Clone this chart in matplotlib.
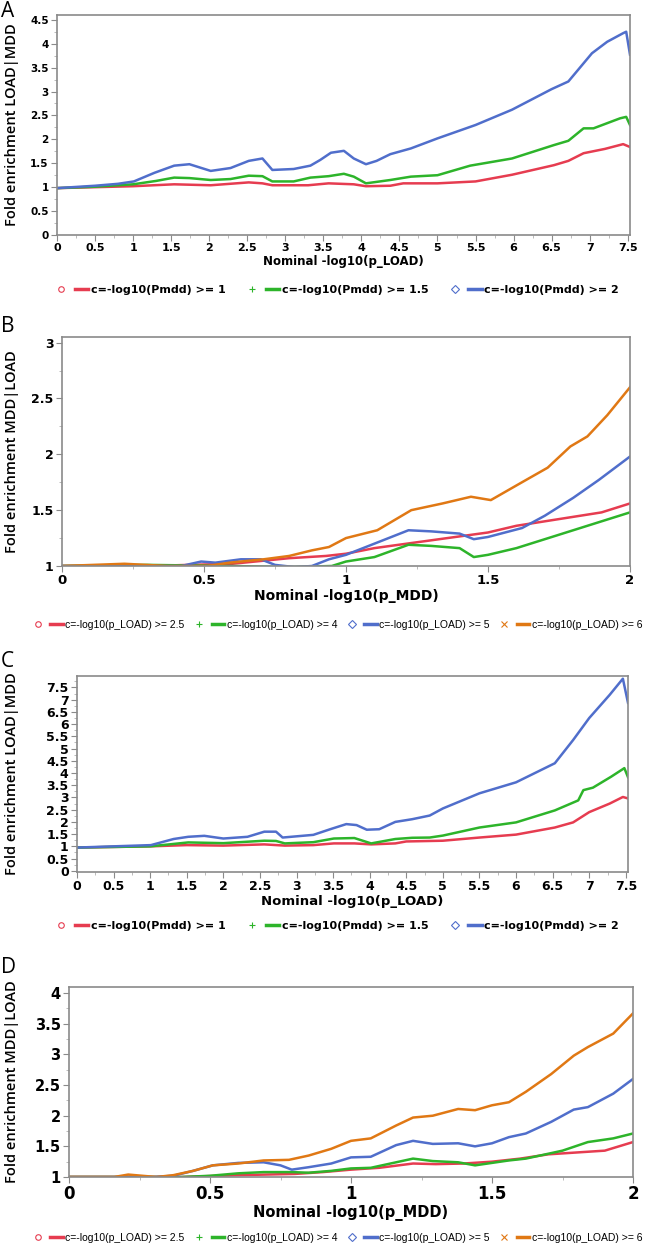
"""Fold-enrichment curves, four stacked panels (A-D)."""

import matplotlib

matplotlib.use("Agg")
import matplotlib.pyplot as plt
from matplotlib.lines import Line2D
from matplotlib.legend_handler import HandlerTuple
from matplotlib.ticker import MultipleLocator

RED = "#E63C50"
GREEN = "#2DB42A"
BLUE = "#506ECB"
ORANGE = "#E07814"

# ---- panel A: LOAD|MDD vs nominal -log10(p_LOAD)
a_red_x = [0, 0.5, 1.0, 1.54, 2.02, 2.52, 2.7, 2.83, 3.3, 3.57, 3.9, 4.06, 4.38, 4.55, 5.0, 5.5, 5.98, 6.53, 6.72, 6.92, 7.2, 7.44, 7.53]
a_red_y = [0.98, 1.0, 1.02, 1.06, 1.04, 1.1, 1.08, 1.04, 1.04, 1.08, 1.06, 1.02, 1.03, 1.08, 1.08, 1.12, 1.26, 1.46, 1.55, 1.71, 1.8, 1.9, 1.84]
a_green_x = [0, 0.5, 1.0, 1.3, 1.54, 1.74, 2.02, 2.28, 2.52, 2.7, 2.83, 3.11, 3.33, 3.57, 3.77, 3.9, 4.06, 4.38, 4.65, 5.0, 5.43, 5.98, 6.53, 6.72, 6.92, 7.05, 7.4, 7.48, 7.53]
a_green_y = [0.98, 1.01, 1.06, 1.13, 1.2, 1.19, 1.15, 1.17, 1.24, 1.23, 1.12, 1.12, 1.2, 1.23, 1.28, 1.22, 1.08, 1.15, 1.22, 1.25, 1.45, 1.6, 1.88, 1.97, 2.23, 2.23, 2.44, 2.47, 2.3]
a_blue_x = [0, 0.5, 0.8, 1.01, 1.28, 1.54, 1.74, 2.02, 2.28, 2.52, 2.7, 2.83, 3.11, 3.33, 3.46, 3.6, 3.77, 3.9, 4.06, 4.2, 4.38, 4.65, 5.0, 5.5, 5.98, 6.5, 6.72, 7.03, 7.23, 7.44, 7.48, 7.53]
a_blue_y = [0.98, 1.03, 1.07, 1.12, 1.3, 1.45, 1.48, 1.34, 1.4, 1.55, 1.6, 1.36, 1.38, 1.45, 1.57, 1.72, 1.76, 1.6, 1.48, 1.55, 1.69, 1.81, 2.02, 2.3, 2.62, 3.05, 3.21, 3.8, 4.04, 4.22, 4.25, 3.77]

# ---- panel B: MDD|LOAD vs nominal -log10(p_MDD)
b_red_x = [0, 0.3, 0.6, 0.8, 0.93, 1.0, 1.1, 1.3, 1.5, 1.6, 1.8, 1.9, 2.0]
b_red_y = [1.0, 1.0, 1.02, 1.07, 1.09, 1.11, 1.16, 1.23, 1.3, 1.36, 1.44, 1.48, 1.56]
b_green_x = [0, 0.3, 0.6, 0.8, 0.95, 1.0, 1.1, 1.22, 1.3, 1.4, 1.45, 1.5, 1.6, 1.7, 1.8, 1.9, 2.0]
b_green_y = [1.0, 1.01, 1.0, 0.99, 1.0, 1.04, 1.08, 1.19, 1.18, 1.16, 1.08, 1.1, 1.16, 1.24, 1.32, 1.4, 1.48]
b_blue_x = [0, 0.42, 0.49, 0.54, 0.63, 0.7, 0.75, 0.82, 0.88, 0.94, 1.0, 1.1, 1.15, 1.22, 1.3, 1.4, 1.45, 1.5, 1.62, 1.7, 1.8, 1.89, 2.0]
b_blue_y = [1.0, 1.0, 1.04, 1.03, 1.06, 1.06, 1.01, 0.99, 1.0, 1.06, 1.1, 1.2, 1.25, 1.32, 1.31, 1.29, 1.24, 1.26, 1.34, 1.45, 1.61, 1.77, 1.98]
b_orange_x = [0, 0.22, 0.37, 0.51, 0.59, 0.71, 0.8, 0.88, 0.94, 1.0, 1.11, 1.23, 1.34, 1.44, 1.51, 1.62, 1.71, 1.79, 1.85, 1.92, 2.0]
b_orange_y = [1.0, 1.02, 1.0, 1.0, 1.03, 1.06, 1.09, 1.14, 1.17, 1.25, 1.32, 1.5, 1.56, 1.62, 1.59, 1.75, 1.88, 2.07, 2.16, 2.35, 2.6]

# ---- panel C: LOAD|MDD vs nominal -log10(p_LOAD)
c_red_x = [0, 1.0, 1.5, 2.0, 2.56, 2.84, 3.23, 3.51, 3.79, 4.02, 4.35, 4.5, 5.0, 5.5, 6.0, 6.53, 6.78, 7.0, 7.28, 7.46, 7.53]
c_red_y = [0.95, 1.0, 1.05, 1.03, 1.08, 1.03, 1.05, 1.12, 1.12, 1.08, 1.12, 1.2, 1.23, 1.36, 1.48, 1.77, 1.98, 2.4, 2.75, 3.02, 2.96]
c_green_x = [0, 1.0, 1.52, 2.0, 2.56, 2.72, 2.84, 3.23, 3.51, 3.79, 4.02, 4.35, 4.58, 4.82, 5.0, 5.5, 6.0, 6.53, 6.85, 6.92, 7.05, 7.3, 7.48, 7.53]
c_green_y = [0.95, 1.0, 1.16, 1.13, 1.23, 1.22, 1.12, 1.17, 1.32, 1.34, 1.12, 1.3, 1.35, 1.36, 1.44, 1.77, 1.98, 2.47, 2.88, 3.3, 3.4, 3.85, 4.2, 3.83]
c_blue_x = [0, 0.5, 1.01, 1.32, 1.52, 1.74, 2.0, 2.33, 2.56, 2.72, 2.81, 3.23, 3.46, 3.68, 3.82, 3.96, 4.13, 4.35, 4.58, 4.82, 5.0, 5.5, 6.0, 6.53, 6.78, 7.0, 7.28, 7.46, 7.53]
c_blue_y = [0.95, 1.0, 1.05, 1.3, 1.39, 1.43, 1.32, 1.39, 1.6, 1.6, 1.36, 1.47, 1.7, 1.91, 1.87, 1.68, 1.7, 2.0, 2.11, 2.26, 2.55, 3.17, 3.62, 4.4, 5.35, 6.25, 7.2, 7.86, 6.87]

# ---- panel D: MDD|LOAD vs nominal -log10(p_MDD)
d_red_x = [0, 0.4, 0.6, 0.8, 0.9, 1.0, 1.1, 1.22, 1.3, 1.4, 1.5, 1.6, 1.7, 1.8, 1.9, 2.0]
d_red_y = [1.0, 1.0, 1.03, 1.05, 1.08, 1.12, 1.15, 1.22, 1.21, 1.22, 1.25, 1.3, 1.37, 1.4, 1.43, 1.57]
d_green_x = [0, 0.4, 0.5, 0.6, 0.69, 0.79, 0.85, 0.93, 1.0, 1.07, 1.16, 1.22, 1.29, 1.38, 1.44, 1.5, 1.56, 1.62, 1.68, 1.75, 1.84, 1.93, 2.0]
d_green_y = [1.0, 1.0, 1.02, 1.06, 1.08, 1.08, 1.07, 1.1, 1.14, 1.15, 1.24, 1.3, 1.26, 1.24, 1.19, 1.23, 1.27, 1.3, 1.36, 1.43, 1.57, 1.63, 1.71]
d_blue_x = [0, 0.3, 0.37, 0.44, 0.51, 0.6, 0.69, 0.75, 0.79, 0.85, 0.93, 1.0, 1.07, 1.16, 1.22, 1.29, 1.38, 1.44, 1.5, 1.56, 1.62, 1.71, 1.79, 1.84, 1.93, 2.0]
d_blue_y = [1.0, 1.0, 1.02, 1.1, 1.19, 1.23, 1.24, 1.19, 1.12, 1.16, 1.22, 1.32, 1.33, 1.52, 1.59, 1.54, 1.55, 1.5, 1.55, 1.65, 1.71, 1.9, 2.1, 2.14, 2.36, 2.6]
d_orange_x = [0, 0.16, 0.21, 0.31, 0.37, 0.44, 0.51, 0.6, 0.69, 0.78, 0.85, 0.93, 1.0, 1.07, 1.16, 1.22, 1.29, 1.38, 1.44, 1.5, 1.56, 1.62, 1.71, 1.79, 1.84, 1.93, 2.0]
d_orange_y = [1.0, 1.0, 1.04, 1.0, 1.03, 1.1, 1.19, 1.22, 1.27, 1.28, 1.35, 1.46, 1.59, 1.63, 1.84, 1.97, 2.0, 2.11, 2.09, 2.17, 2.22, 2.39, 2.68, 2.98, 3.12, 3.34, 3.67]

pmdd_labels = ["c=-log10(Pmdd) >= 1", "c=-log10(Pmdd) >= 1.5", "c=-log10(Pmdd) >= 2"]
pload_labels = ["c=-log10(p_LOAD) >= 2.5", "c=-log10(p_LOAD) >= 4",
                "c=-log10(p_LOAD) >= 5", "c=-log10(p_LOAD) >= 6"]

W, H = 648, 1247
fig = plt.figure(figsize=(W / 100, H / 100), dpi=100)


def rect(left, right, top, bottom):
    return [left / W, 1 - bottom / H, (right - left) / W, (bottom - top) / H]


def panel(box, letter, letter_top, series, labels, markers, xlim, ylim,
          ylabel, xlabel, xtick_fs, ytick_fs, xlabel_fs, legend_y, legend_font, col_space):
    ax = fig.add_axes(rect(*box))
    for (xs, ys, color) in series:
        ax.plot(xs, ys, color=color, lw=1.8, solid_joinstyle="round")
    ax.set_xlim(*xlim)
    ax.set_ylim(*ylim)
    ax.xaxis.set_major_locator(MultipleLocator(0.5))
    ax.yaxis.set_major_locator(MultipleLocator(0.5))
    ax.xaxis.set_minor_locator(MultipleLocator(0.25))
    ax.yaxis.set_minor_locator(MultipleLocator(0.25))
    fmt = plt.FuncFormatter(lambda v, p: f"{v:g}")
    ax.xaxis.set_major_formatter(fmt)
    ax.yaxis.set_major_formatter(fmt)
    for side in ax.spines.values():
        side.set_color("#8a8a8a")
        side.set_linewidth(1.2)
    ax.tick_params(which="major", length=4, color="#8a8a8a", pad=2)
    ax.tick_params(which="minor", length=2, color="#b0b0b0")
    ax.tick_params(axis="x", labelsize=xtick_fs)
    ax.tick_params(axis="y", labelsize=ytick_fs)
    for t in ax.get_xticklabels() + ax.get_yticklabels():
        t.set_fontweight("bold")
    ax.set_xlabel(xlabel, fontsize=xlabel_fs, fontweight="bold", labelpad=1)

    left, right, top, bottom = box
    fig.text(12 / W, 1 - (top + bottom) / 2 / H, ylabel, rotation=90, ha="center",
             va="center", fontsize=10.5, fontweight="semibold", family="Open Sans")
    fig.text(1 / W, 1 - letter_top / H, letter, ha="left", va="top", fontsize=15,
             family="Open Sans")

    handles = []
    for (xs, ys, color), m in zip(series, markers):
        mk = Line2D([], [], ls="none", marker=m, ms=4, mfc="none", mec=color, mew=0.8)
        ln = Line2D([], [], color=color, lw=2.5)
        handles.append((mk, ln))
    fig.legend(handles, labels, loc="center", bbox_to_anchor=(0.52, 1 - legend_y / H),
               ncol=len(labels), frameon=False,
               handler_map={tuple: HandlerTuple(ndivide=None, pad=0.6)},
               handlelength=3.0, handletextpad=0.25, columnspacing=col_space,
               borderpad=0.1, prop=legend_font)
    return ax


bold8 = {"size": 8, "weight": "bold"}
narrow = {"size": 7.5, "family": "Liberation Sans"}

panel((57, 630, 15, 235), "A", 1,
      [(a_red_x, a_red_y, RED), (a_green_x, a_green_y, GREEN), (a_blue_x, a_blue_y, BLUE)],
      pmdd_labels, ["o", "+", "D"], (0, 7.53), (0, 4.6),
      "Fold enrichment LOAD|MDD", "Nominal -log10(p_LOAD)", 8, 7.5, 8.5, 290, bold8, 1.8)

panel((62, 630, 337, 566), "B", 316,
      [(b_red_x, b_red_y, RED), (b_green_x, b_green_y, GREEN), (b_blue_x, b_blue_y, BLUE),
       (b_orange_x, b_orange_y, ORANGE)],
      pload_labels, ["o", "+", "D", "x"], (0, 2), (1, 3.05),
      "Fold enrichment MDD|LOAD", "Nominal -log10(p_MDD)", 9.5, 9, 10, 625, narrow, 0.8)

panel((77, 628, 676, 872), "C", 651,
      [(c_red_x, c_red_y, RED), (c_green_x, c_green_y, GREEN), (c_blue_x, c_blue_y, BLUE)],
      pmdd_labels, ["o", "+", "D"], (0, 7.53), (-0.05, 7.97),
      "Fold enrichment LOAD|MDD", "Nominal -log10(p_LOAD)", 9, 9, 9.5, 926, bold8, 1.8)

panel((69, 633, 987, 1177), "D", 957,
      [(d_red_x, d_red_y, RED), (d_green_x, d_green_y, GREEN), (d_blue_x, d_blue_y, BLUE),
       (d_orange_x, d_orange_y, ORANGE)],
      pload_labels, ["o", "+", "D", "x"], (0, 2), (1, 4.1),
      "Fold enrichment MDD|LOAD", "Nominal -log10(p_MDD)", 12, 10.5, 10.5, 1238, narrow, 0.8)

fig.savefig("out.png", dpi=100)
